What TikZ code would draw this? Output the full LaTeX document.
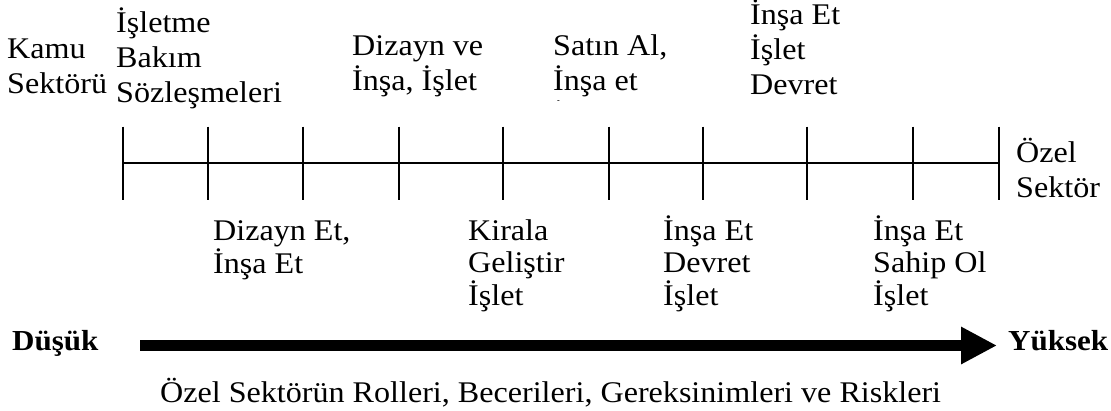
\documentclass[tikz,border=0pt]{standalone}
\usepackage{fontspec}
\setmainfont{Liberation Serif}[FakeStretch=1.07]
\usetikzlibrary{arrows.meta}
\begin{document}
\begin{tikzpicture}[x=1pt,y=-1pt,
  lbl/.style={inner sep=0pt,anchor=base west,align=left,font=\fontsize{30}{32.5}\selectfont},
  lbltop/.style={inner sep=0pt,anchor=base west,align=left,font=\fontsize{30}{35}\selectfont},
  bld/.style={inner sep=0pt,anchor=base west,font=\fontsize{29}{33}\selectfont\bfseries},
  axis/.style={line width=2pt},
  tick/.style={line width=2pt},
  bigarrow/.style={line width=11pt,-{Triangle[length=36pt,width=35pt]}}]
\useasboundingbox (0,0) rectangle (1111,410);
% axis
\coordinate (L) at (122.7,162.7);
\coordinate (R) at (999,162.7);
\draw[axis] (L) -- (R);
\foreach \x in {122.7,208.3,302.7,398.7,502.7,609,702.7,806.7,912.7,999}
  \draw[tick] (\x,126.7) -- (\x,200);
% top labels (positions give the baseline of the last line)
\node[lbltop] (kamu) at (7,93) {Kamu\\Sektörü};
\node[lbltop] (ibs) at (116,102) {İşletme\\Bakım\\Sözleşmeleri};
\node[lbltop] (dvi) at (352,90) {Dizayn ve\\İnşa, İşlet};
\begin{scope}
\clip (540,0) rectangle (700,100);
\node[lbltop] (sai) at (553,125) {Satın Al,\\İnşa et\\İşlet};
\end{scope}
\node[lbltop] (iid) at (750,94) {İnşa Et\\İşlet\\Devret};
\node[lbltop] (ozel) at (1016,197) {Özel\\Sektör};
% bottom labels
\node[lbl] (dei) at (213,273) {Dizayn Et,\\İnşa Et};
\node[lbl] (kgi) at (468,305) {Kirala\\Geliştir\\İşlet};
\node[lbl] (idi) at (663,305) {İnşa Et\\Devret\\İşlet};
\node[lbl] (isi) at (873,305) {İnşa Et\\Sahip Ol\\İşlet};
% arrow
\node[bld] (dusuk) at (12,350) {Düşük};
\node[bld] (yuksek) at (1008,350) {Yüksek};
\coordinate (as) at (140,345.5);
\coordinate (ae) at (997,345.5);
\draw[bigarrow] (as) -- (ae);
\node[lbl] (cap) at (160,402) {Özel Sektörün Rolleri, Becerileri, Gereksinimleri ve Riskleri};
\end{tikzpicture}
\end{document}
